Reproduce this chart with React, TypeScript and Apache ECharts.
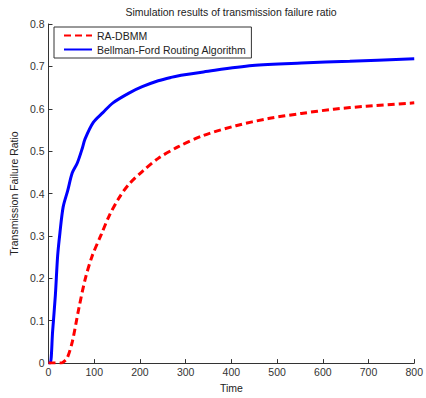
import React, { useEffect, useRef } from "react";
import * as echarts from "echarts";

const titleText = "Simulation results of transmission failure ratio";
const xName = "Time";
const yName = "Transmission Failure Ratio";

const seriesNames = ["RA-DBMM", "Bellman-Ford Routing Algorithm"];

const redTime = [0, 27, 33, 41, 52, 66, 80, 95, 116, 133, 155, 176, 205, 240, 283, 339, 410, 481, 553, 624, 695, 800];
const redValues = [0, 0, 0.003, 0.012, 0.05, 0.127, 0.197, 0.251, 0.305, 0.348, 0.391, 0.422, 0.452, 0.483, 0.51, 0.537, 0.56, 0.577, 0.589, 0.599, 0.606, 0.614];

const blueTime = [0, 4, 9, 15, 20, 25, 32, 42, 52, 63, 74, 80, 98, 119, 141, 176, 205, 240, 268, 290, 339, 446, 553, 659, 800];
const blueValues = [0, 0, 0.075, 0.16, 0.253, 0.307, 0.368, 0.407, 0.449, 0.472, 0.507, 0.529, 0.568, 0.591, 0.614, 0.637, 0.652, 0.666, 0.674, 0.679, 0.687, 0.702, 0.708, 0.712, 0.718];

const FONT = "Liberation Sans, Arial, sans-serif";
const FS = 10.5;

export default function App() {
  const ref = useRef<HTMLDivElement>(null);
  useEffect(() => {
    if (!ref.current) return;
    const chart = echarts.init(ref.current, null, { renderer: "svg" });
    const red = redTime.map((t, i) => [t, redValues[i]]);
    const blue = blueTime.map((t, i) => [t, blueValues[i]]);
    const axisLine = { show: true, lineStyle: { color: "#333", width: 1 } };
    chart.setOption({
      animation: false,
      backgroundColor: "#fff",
      textStyle: { fontFamily: FONT },
      grid: { left: 44, top: 24, right: 6.5, bottom: 28.7, containLabel: false },
      graphic: [
        {
          type: "text",
          x: 231,
          y: 12,
          style: {
            text: titleText,
            fontFamily: FONT,
            fontSize: FS,
            fill: "#222",
            textAlign: "center",
            textVerticalAlign: "middle",
          },
        },
      ],
      legend: {
        orient: "vertical",
        left: 54,
        top: 27,
        borderColor: "#333",
        borderWidth: 1,
        padding: [3, 5, 3, 9],
        itemGap: 3,
        itemWidth: 28,
        itemHeight: 12,
        backgroundColor: "#fff",
        itemStyle: { opacity: 0, color: "rgba(0,0,0,0)", borderWidth: 0 },
        textStyle: { fontFamily: FONT, fontSize: FS, color: "#222" },
        data: seriesNames,
      },
      xAxis: {
        type: "value",
        min: 0,
        max: 800,
        interval: 100,
        name: xName,
        nameLocation: "middle",
        nameGap: 16,
        nameTextStyle: { fontFamily: FONT, fontSize: FS, color: "#222" },
        axisLine,
        axisTick: { show: true, inside: true, length: 4, lineStyle: { color: "#333" } },
        axisLabel: { fontFamily: FONT, fontSize: FS, color: "#333", margin: 3 },
        splitLine: { show: false },
      },
      yAxis: {
        type: "value",
        min: 0,
        max: 0.8,
        interval: 0.1,
        name: yName,
        nameLocation: "middle",
        nameGap: 28,
        nameTextStyle: { fontFamily: FONT, fontSize: FS, color: "#222" },
        axisLine,
        axisTick: { show: true, inside: true, length: 4, lineStyle: { color: "#333" } },
        axisLabel: { fontFamily: FONT, fontSize: FS, color: "#333", margin: 4 },
        splitLine: { show: false },
      },
      series: [
        {
          name: seriesNames[0],
          type: "line",
          data: red,
          smooth: 0.3,
          symbol: "none",
          lineStyle: { color: "#ff0000", width: 3, type: [7, 4] },
          itemStyle: { color: "#ff0000" },
          z: 3,
        },
        {
          name: seriesNames[1],
          type: "line",
          data: blue,
          smooth: 0.3,
          symbol: "none",
          lineStyle: { color: "#0000ff", width: 3 },
          itemStyle: { color: "#0000ff" },
          z: 2,
        },
      ],
    });
    return () => chart.dispose();
  }, []);
  return (
    <div
      ref={ref}
      style={{ position: "fixed", left: 0, top: 0, width: 426, height: 398 }}
    />
  );
}
